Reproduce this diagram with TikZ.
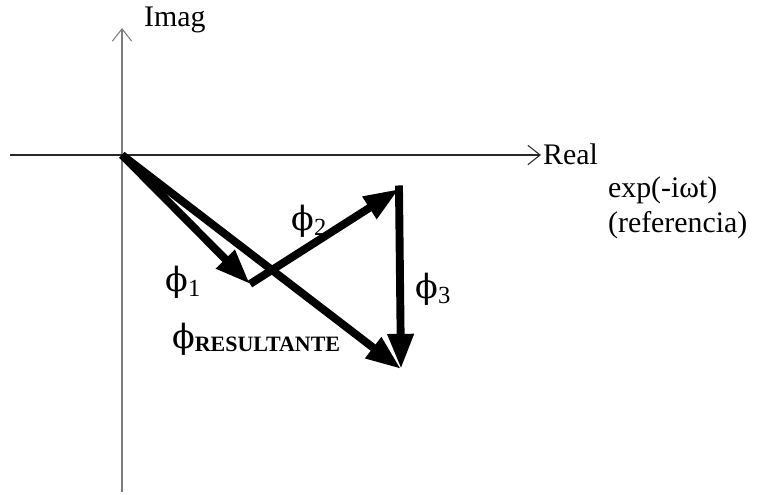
\documentclass[tikz,border=0pt]{standalone}
\usepackage{fontspec}
\setmainfont{Liberation Serif}
\newfontfamily\greekfont{DejaVu Serif}
\usepackage{tikz}
\usetikzlibrary{arrows.meta, positioning}
\definecolor{axisgray}{RGB}{125,125,125}
\definecolor{axisdark}{RGB}{40,40,40}
\tikzset{
  axis/.style={-{Straight Barb[length=7pt, width=11pt]}, line width=0.6pt, color=axisgray},
  phasor/.style={-{Triangle[length=20pt, width=14pt]}, line width=4.5pt, color=black},
  lbl/.style={font=\fontsize{17}{20}\selectfont, inner sep=1pt},
  phlbl/.style={font=\fontsize{17}{20}\selectfont, inner sep=1pt}
}
\newcommand{\phiglyph}{{\greekfont\fontsize{19}{20}\selectfont ϕ}}
\newcommand{\phasorname}[1]{\phiglyph\raisebox{-3pt}{\fontsize{14}{15}\selectfont #1}}

\begin{document}
\begin{tikzpicture}[x=0.02cm, y=-0.02cm]
  \useasboundingbox (0,0) rectangle (780,494);

  % Axes
  \coordinate (ybot) at (122,492);
  \coordinate (ytop) at (122,28);
  \coordinate (xleft) at (10,155);
  \coordinate (xright) at (541,155);
  \draw[axis] (ybot) -- (ytop);
  \draw[axis, color=axisdark] (xleft) -- (xright);
  \node[lbl, anchor=west] (imag) at (142,20) {Imag};
  \node[lbl, anchor=west] (real) at (541,154) {Real};
  \node[lbl, anchor=west, align=left] (ref) at (606,208) {exp(-iωt)\\(referencia)};

  % Phasors
  \coordinate (O) at (122,155);
  \coordinate (A) at (250,284);
  \coordinate (B) at (399,189);
  \coordinate (C) at (401,369);
  \draw[phasor] (O) -- (A);
  \draw[phasor] (A) -- (B);
  \draw[phasor, shorten <=-2pt] (B) -- (C);
  \draw[phasor] (O) -- (C);

  % Labels
  \node[phlbl] (lab1) at (183,282) {\phasorname{1}};
  \node[phlbl] (lab2) at (309,221) {\phasorname{2}};
  \node[phlbl] (lab3) at (433,289) {\phasorname{3}};
  \node[phlbl, anchor=west] (labR) at (170,339)
    {\phiglyph\raisebox{-2pt}{\fontsize{12.5}{14}\selectfont\bfseries RESULTANTE}};
\end{tikzpicture}
\end{document}
